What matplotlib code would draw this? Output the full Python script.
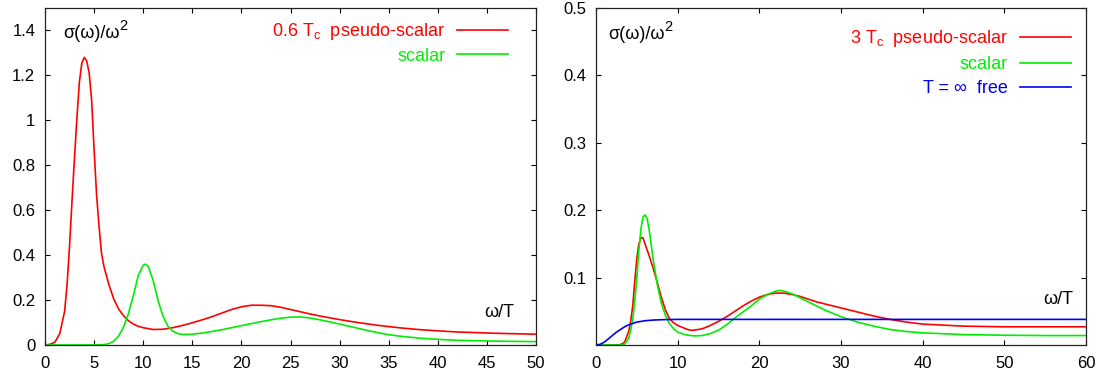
import matplotlib
matplotlib.use("Agg")
import matplotlib.pyplot as plt
from matplotlib.transforms import offset_copy

plt.rcParams['font.family'] = ['Liberation Sans', 'DejaVu Sans']
plt.rcParams['mathtext.fontset'] = 'custom'
plt.rcParams['mathtext.rm'] = 'Liberation Sans'
plt.rcParams['mathtext.it'] = 'Liberation Sans:italic'

# ---- left panel: 0.6 Tc ----
l_ps_x = [0, 0.5, 1.0, 1.5, 2.0, 2.25, 2.5, 2.75, 3.0, 3.25, 3.5, 3.75, 4.0, 4.25, 4.5, 4.75,
          5.0, 5.25, 5.5, 5.75, 6.0, 6.5, 7.0, 7.5, 8.0, 8.5, 9.0, 9.5, 10, 11, 12, 13, 14, 15,
          16, 17, 18, 19, 20, 21, 22, 23, 24, 25, 26, 27, 28, 29, 30, 32, 34, 36, 38, 40, 42,
          44, 46, 48, 50]
l_ps_y = [0, 0.003, 0.012, 0.05, 0.15, 0.27, 0.44, 0.64, 0.83, 1.01, 1.17, 1.255, 1.28, 1.265,
          1.21, 1.09, 0.87, 0.67, 0.53, 0.41, 0.35, 0.27, 0.205, 0.16, 0.13, 0.108, 0.093, 0.083,
          0.077, 0.069, 0.070, 0.077, 0.087, 0.099, 0.112, 0.126, 0.142, 0.158, 0.170, 0.177,
          0.177, 0.175, 0.168, 0.158, 0.148, 0.138, 0.129, 0.121, 0.113, 0.099, 0.087, 0.077,
          0.069, 0.063, 0.058, 0.055, 0.052, 0.050, 0.048]

l_s_x = [0, 5, 6, 6.5, 7, 7.5, 8, 8.5, 9, 9.5, 10, 10.25, 10.5, 11, 11.5, 12, 12.5, 13, 13.5,
         14, 15, 16, 17, 18, 19, 20, 21, 22, 23, 24, 25, 26, 27, 28, 29, 30, 31, 32, 33, 34,
         35, 36, 38, 40, 42, 44, 46, 48, 50]
l_s_y = [0, 0, 0.002, 0.006, 0.017, 0.04, 0.08, 0.14, 0.22, 0.31, 0.355, 0.36, 0.35, 0.29,
         0.20, 0.13, 0.085, 0.062, 0.051, 0.047, 0.048, 0.053, 0.060, 0.068, 0.077, 0.086,
         0.095, 0.104, 0.112, 0.119, 0.124, 0.125, 0.120, 0.112, 0.103, 0.093, 0.083, 0.073,
         0.063, 0.054, 0.046, 0.040, 0.031, 0.025, 0.021, 0.019, 0.017, 0.016, 0.015]

# ---- right panel: 3 Tc ----
r_ps_x = [0, 2, 3, 3.5, 4.0, 4.25, 4.5, 4.75, 5.0, 5.25, 5.5, 5.75, 6.0, 6.5, 7.0, 7.5, 8.0,
          8.5, 9.0, 9.5, 10, 11, 11.5, 12, 13, 14, 15, 16, 17, 18, 19, 20, 21, 22, 23, 24, 25,
          26, 27, 28, 30, 32, 34, 36, 38, 40, 45, 50, 55, 60]
r_ps_y = [0, 0, 0.0005, 0.004, 0.02, 0.035, 0.058, 0.095, 0.128, 0.150, 0.159, 0.159, 0.150,
          0.133, 0.114, 0.093, 0.071, 0.052, 0.039, 0.033, 0.029, 0.024, 0.022, 0.022, 0.024,
          0.029, 0.035, 0.042, 0.050, 0.058, 0.065, 0.071, 0.075, 0.077, 0.077, 0.075, 0.072,
          0.068, 0.064, 0.061, 0.055, 0.049, 0.043, 0.038, 0.034, 0.031, 0.028, 0.027, 0.027,
          0.027]

r_s_x = [0, 3, 3.5, 4, 4.25, 4.5, 4.75, 5, 5.25, 5.5, 5.75, 6, 6.25, 6.5, 6.75, 7, 7.5, 8, 8.5,
         9, 9.5, 10, 11, 12, 13, 14, 15, 16, 17, 18, 19, 20, 21, 22, 22.5, 23, 24, 25, 26, 27,
         28, 29, 30, 32, 34, 36, 38, 40, 45, 50, 55, 60]
r_s_y = [0, 0, 0.001, 0.010, 0.022, 0.038, 0.065, 0.100, 0.140, 0.172, 0.190, 0.193, 0.188,
         0.172, 0.150, 0.127, 0.090, 0.062, 0.044, 0.032, 0.024, 0.019, 0.015, 0.0135, 0.014,
         0.017, 0.022, 0.030, 0.040, 0.049, 0.058, 0.068, 0.075, 0.080, 0.081, 0.080, 0.076,
         0.070, 0.064, 0.058, 0.052, 0.047, 0.042, 0.034, 0.028, 0.023, 0.020, 0.018, 0.0155,
         0.0145, 0.014, 0.014]

r_free_x = [0, 0.5, 1, 1.5, 2, 2.5, 3, 3.5, 4, 4.5, 5, 6, 7, 8, 9, 10, 60]
r_free_y = [0, 0.001, 0.004, 0.009, 0.014, 0.019, 0.023, 0.027, 0.030, 0.032, 0.034, 0.036,
            0.037, 0.0375, 0.0378, 0.038, 0.038]

left_xticks = [0, 5, 10, 15, 20, 25, 30, 35, 40, 45, 50]
left_yticks = [0, 0.2, 0.4, 0.6, 0.8, 1.0, 1.2, 1.4]
left_ylabels = ['0', '0.2', '0.4', '0.6', '0.8', '1', '1.2', '1.4']
right_xticks = [0, 10, 20, 30, 40, 50, 60]
right_yticks = [0.1, 0.2, 0.3, 0.4, 0.5]
right_ylabels = ['0.1', '0.2', '0.3', '0.4', '0.5']

RED = '#ff0000'
GREEN = '#00ee00'
BLUE = '#0000ff'
FS_TICK = 12
FS_TXT = 13

fig = plt.figure(figsize=(11, 3.78), dpi=100)
axL = fig.add_axes([0.0409, 0.0873, 0.4464, 0.8915])
axR = fig.add_axes([0.5418, 0.0873, 0.4455, 0.8915])

lw = 1.2
axL.plot(l_ps_x, l_ps_y, color=RED, lw=lw, label=r'0.6 T$_\mathregular{c}$  pseudo-scalar')
axL.plot(l_s_x, l_s_y, color=GREEN, lw=lw, label='scalar')
axR.plot(r_ps_x, r_ps_y, color=RED, lw=lw, label=r'3 T$_\mathregular{c}$  pseudo-scalar')
axR.plot(r_s_x, r_s_y, color=GREEN, lw=lw, label='scalar')
axR.plot(r_free_x, r_free_y, color=BLUE, lw=lw, label='T = ∞  free')

axL.set_xlim(0, 50)
axL.set_ylim(0, 1.5)
axL.set_xticks(left_xticks)
axL.set_xticklabels([str(v) for v in left_xticks])
axL.set_yticks(left_yticks)
axL.set_yticklabels(left_ylabels)

axR.set_xlim(0, 60)
axR.set_ylim(0, 0.5)
axR.set_xticks(right_xticks)
axR.set_xticklabels([str(v) for v in right_xticks])
axR.set_yticks(right_yticks)
axR.set_yticklabels(right_ylabels)

for ax in (axL, axR):
    ax.tick_params(direction='in', top=True, right=True, length=3.8, width=0.8,
                   labelsize=FS_TICK)
    ax.tick_params(axis='x', pad=8)
    ax.tick_params(axis='y', pad=7)
    for s in ax.spines.values():
        s.set_linewidth(0.9)
        s.set_color('#222222')

# y-axis labels: sigma(omega)/omega^2 with a larger raised superscript
mainL = axL.text(0.0367, 0.911, 'σ(ω)/ω', transform=axL.transAxes,
                 fontsize=FS_TXT, va='baseline', ha='left')
mainR = axR.text(0.0245, 0.908, 'σ(ω)/ω', transform=axR.transAxes,
                 fontsize=FS_TXT, va='baseline', ha='left')

axL.text(0.955, 0.095, 'ω/T', transform=axL.transAxes, fontsize=FS_TXT, ha='right', va='center')
axR.text(0.973, 0.1365, 'ω/T', transform=axR.transAxes, fontsize=FS_TXT, ha='right', va='center')

axL.legend(loc='upper right', bbox_to_anchor=(0.943, 0.961), frameon=False,
           markerfirst=False, labelcolor='linecolor', fontsize=FS_TXT,
           handlelength=2.82, handletextpad=0.66, labelspacing=0.3,
           borderpad=0, borderaxespad=0)
axR.legend(loc='upper right', bbox_to_anchor=(0.969, 0.941), frameon=False,
           markerfirst=False, labelcolor='linecolor', fontsize=FS_TXT,
           handlelength=2.82, handletextpad=0.66, labelspacing=0.4,
           borderpad=0, borderaxespad=0)

fig.canvas.draw()
renderer = fig.canvas.get_renderer()
for ax, t in ((axL, mainL), (axR, mainR)):
    bb = t.get_window_extent(renderer)
    x_end, _ = ax.transAxes.inverted().transform((bb.x1, bb.y0))
    tr = offset_copy(ax.transAxes, fig=fig, x=-0.5, y=5.5, units='points')
    pos = t.get_position()
    ax.text(x_end, pos[1], '2', transform=tr, fontsize=10.5, va='baseline', ha='left')

fig.savefig('out.png', dpi=100)
